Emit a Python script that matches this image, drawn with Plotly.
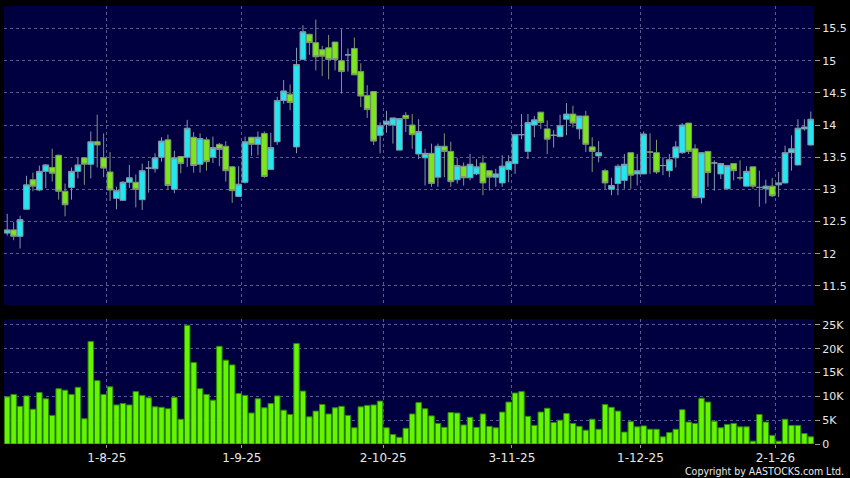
"""
Stock candlestick + volume chart (Plotly), AASTOCKS style.
"""

import pandas as pd
import plotly.graph_objects as go
from plotly.subplots import make_subplots

# ─── Data ─────────────────────────────────────────────────────────────────────

HOLIDAYS = ["2025-10-01", "2025-10-07", "2025-10-29", "2025-12-25", "2025-12-26", "2026-01-01"]
DATES = [d for d in pd.bdate_range("2025-07-10", "2026-01-09")
         if d.strftime("%Y-%m-%d") not in HOLIDAYS]
TICK_DATES = ["2025-08-01", "2025-09-01", "2025-10-02", "2025-11-03", "2025-12-01", "2026-01-02"]

OPEN = [12.32, 12.37, 12.27, 12.69, 13.15, 12.99, 13.28, 13.34, 13.53, 12.97,
        13.03, 13.28, 13.49, 13.39, 13.74, 13.49, 13.27, 12.86, 12.83, 13.11,
        13.11, 12.84, 13.33, 13.32, 13.50, 13.77, 13.00, 13.51, 13.50, 13.81,
        13.39, 13.77, 13.50, 13.70, 13.67, 13.35, 12.89, 13.11, 13.81, 13.70,
        13.87, 13.31, 13.74, 14.38, 14.48, 13.66, 15.02, 15.41, 15.28, 15.17,
        15.20, 15.29, 15.00, 15.09, 15.19, 14.83, 14.46, 14.52, 13.84, 14.01,
        14.00, 13.61, 14.15, 14.00, 13.55, 13.49, 13.56, 13.19, 13.67, 13.59,
        13.15, 13.36, 13.18, 13.24, 13.41, 13.29, 13.19, 13.10, 13.31, 13.40,
        13.85, 13.59, 14.00, 14.20, 13.94, 13.84, 13.82, 14.09, 14.17, 13.94,
        14.14, 13.66, 13.52, 13.29, 13.00, 13.09, 13.14, 13.57, 13.24, 13.24,
        13.58, 13.57, 13.37, 13.29, 13.49, 13.57, 14.03, 13.63, 12.87, 13.59,
        13.41, 13.24, 13.01, 13.40, 13.18, 13.05, 13.35, 13.03, 13.01, 13.05,
        13.07, 13.10, 13.57, 13.38, 13.94, 13.69]
HIGH = [12.62, 12.49, 12.59, 13.21, 13.26, 13.37, 13.39, 13.63, 13.54, 13.09,
        13.34, 13.49, 13.50, 13.90, 14.16, 13.87, 13.58, 13.04, 13.13, 13.38,
        13.23, 13.40, 13.44, 13.56, 13.81, 13.85, 13.60, 13.51, 14.08, 13.89,
        13.87, 13.81, 13.82, 13.72, 13.75, 13.36, 13.36, 13.82, 13.81, 13.90,
        13.90, 13.88, 14.44, 14.70, 14.63, 15.20, 15.55, 15.42, 15.64, 15.23,
        15.40, 15.29, 15.49, 15.19, 15.36, 14.96, 14.62, 14.52, 14.04, 14.22,
        14.11, 14.10, 14.20, 14.17, 14.09, 13.63, 13.71, 13.71, 13.87, 13.74,
        13.49, 13.42, 13.55, 13.47, 13.53, 13.29, 13.32, 13.53, 13.53, 13.85,
        14.17, 14.17, 14.14, 14.20, 14.07, 13.92, 14.16, 14.34, 14.30, 14.14,
        14.22, 13.81, 13.75, 13.32, 13.18, 13.39, 13.55, 13.57, 13.55, 13.90,
        13.87, 13.77, 13.50, 13.55, 13.75, 14.03, 14.03, 13.70, 13.58, 13.59,
        13.45, 13.40, 13.37, 13.40, 13.45, 13.36, 13.35, 13.29, 13.15, 13.18,
        13.27, 13.68, 13.84, 14.09, 14.09, 14.21]
LOW = [12.28, 12.21, 12.08, 12.69, 12.97, 12.97, 13.02, 13.12, 12.84, 12.58,
       12.84, 13.17, 13.07, 13.17, 13.34, 13.19, 12.82, 12.69, 12.82, 13.02,
       12.72, 12.68, 12.95, 13.26, 13.43, 13.00, 12.94, 13.25, 13.35, 13.26,
       13.26, 13.29, 13.41, 13.36, 13.12, 12.79, 12.89, 13.09, 13.52, 13.53,
       13.18, 13.30, 13.69, 14.33, 14.23, 13.56, 15.02, 15.09, 14.85, 14.76,
       14.71, 14.85, 14.49, 14.83, 14.78, 14.28, 14.11, 13.69, 13.56, 13.88,
       13.71, 13.61, 13.89, 13.63, 13.47, 13.06, 13.04, 13.04, 13.19, 13.04,
       13.09, 13.06, 13.14, 13.22, 12.91, 12.98, 13.04, 13.04, 13.11, 13.24,
       13.78, 13.47, 13.81, 13.94, 13.55, 13.65, 13.81, 13.84, 13.96, 13.78,
       13.58, 13.27, 13.42, 13.00, 12.91, 12.91, 13.01, 13.01, 13.06, 13.24,
       13.24, 13.24, 13.22, 13.19, 13.34, 13.55, 13.55, 12.86, 12.78, 13.04,
       12.98, 13.16, 12.99, 13.14, 13.14, 13.05, 13.01, 12.73, 12.78, 12.88,
       12.88, 13.09, 13.29, 13.37, 13.91, 13.68]
CLOSE = [12.37, 12.27, 12.53, 13.07, 13.05, 13.28, 13.38, 13.25, 12.97, 12.76,
         13.28, 13.38, 13.39, 13.74, 13.69, 13.33, 12.99, 12.98, 13.11, 13.18,
         13.00, 13.29, 13.33, 13.49, 13.75, 13.06, 13.49, 13.40, 13.95, 13.37,
         13.79, 13.43, 13.65, 13.62, 13.29, 12.98, 13.08, 13.74, 13.70, 13.81,
         13.20, 13.65, 14.38, 14.53, 14.35, 14.94, 15.45, 15.28, 15.06, 15.07,
         15.02, 15.02, 14.83, 15.09, 14.78, 14.45, 14.24, 13.75, 13.99, 14.06,
         14.11, 14.10, 14.10, 13.85, 13.90, 13.56, 13.09, 13.67, 13.59, 13.12,
         13.37, 13.18, 13.39, 13.35, 13.10, 13.19, 13.24, 13.36, 13.43, 13.85,
         13.85, 14.04, 14.08, 14.04, 13.78, 13.84, 13.99, 14.17, 14.03, 14.14,
         13.70, 13.59, 13.57, 13.10, 13.06, 13.36, 13.39, 13.22, 13.29, 13.86,
         13.58, 13.27, 13.37, 13.46, 13.66, 14.00, 13.59, 12.87, 13.57, 13.26,
         13.41, 13.40, 13.37, 13.29, 13.18, 13.28, 13.05, 13.03, 13.05, 12.90,
         13.10, 13.57, 13.63, 13.95, 13.97, 14.09]
VOLUME_K = [9.9, 10.4, 7.9, 10.1, 7.3, 10.8, 9.5, 6.0, 11.6, 11.3,
            10.4, 11.9, 5.3, 21.5, 13.3, 10.4, 12.0, 8.2, 8.5, 8.2,
            11.0, 10.2, 9.7, 7.8, 7.7, 7.4, 9.8, 5.2, 24.9, 17.1,
            11.6, 10.4, 9.2, 20.5, 17.6, 16.6, 10.6, 10.2, 6.5, 9.5,
            7.6, 8.5, 10.1, 7.1, 6.2, 21.1, 11.1, 5.7, 6.9, 8.3,
            6.3, 7.6, 7.9, 6.0, 3.4, 7.8, 8.1, 8.2, 9.0, 3.4,
            2.0, 1.4, 3.3, 6.3, 8.7, 7.4, 5.9, 4.3, 3.5, 6.6,
            6.5, 4.0, 5.6, 3.5, 6.3, 3.7, 3.4, 6.7, 8.8, 10.7,
            11.0, 5.8, 3.9, 6.7, 7.5, 4.5, 5.0, 6.4, 4.3, 3.7,
            2.9, 5.2, 3.1, 8.3, 7.7, 6.9, 2.5, 4.7, 3.6, 3.8,
            3.1, 3.1, 1.5, 2.4, 3.1, 7.2, 4.6, 4.3, 9.6, 8.8,
            4.8, 3.4, 4.1, 4.3, 3.6, 3.6, 0.6, 6.2, 4.6, 1.8,
            0.6, 5.2, 3.9, 3.9, 2.2, 1.5]

PRICE_TICKS = [11.5, 12, 12.5, 13, 13.5, 14, 14.5, 15, 15.5]
VOL_TICKS = [0, 5, 10, 15, 20, 25]

# ─── Style ────────────────────────────────────────────────────────────────────

PAPER_BG = "#000000"
PLOT_BG = "#000040"
GRID = "#5a5a90"
TEXT = "#e8e8e8"
UP_FILL = "#22e6f0"
DOWN_FILL = "#7be61e"
UP_EDGE = "#7f9aa8"
DOWN_EDGE = "#7f9570"
VOL_FILL = "#66f500"
VOL_EDGE = "#2c8a00"

idx = list(range(len(DATES)))
date_str = [d.strftime("%Y-%m-%d") for d in DATES]
tick_pos = [date_str.index(t) - 0.5 for t in TICK_DATES]
tick_txt = [f"{d.day}-{d.month}-{d.year % 100}" for d in pd.to_datetime(TICK_DATES)]

fig = make_subplots(rows=2, cols=1, shared_xaxes=True)

fig.add_trace(go.Candlestick(
    x=idx, open=OPEN, high=HIGH, low=LOW, close=CLOSE,
    increasing=dict(fillcolor=UP_FILL, line=dict(color=UP_EDGE, width=1)),
    decreasing=dict(fillcolor=DOWN_FILL, line=dict(color=DOWN_EDGE, width=1)),
    whiskerwidth=0,
    showlegend=False,
), row=1, col=1)

fig.add_trace(go.Bar(
    x=idx, y=VOLUME_K,
    marker=dict(color=VOL_FILL, line=dict(color=VOL_EDGE, width=1)),
    showlegend=False,
), row=2, col=1)

axis_common = dict(
    showgrid=True, gridcolor=GRID, gridwidth=1, griddash="3px,3px",
    zeroline=False, showline=False,
)

fig.update_layout(
    width=850, height=478,
    paper_bgcolor=PAPER_BG,
    plot_bgcolor=PLOT_BG,
    font=dict(family="DejaVu Sans", color=TEXT, size=11),
    margin=dict(l=4, r=36, t=6, b=34),
    bargap=0.15,
    boxgap=0.1,
    boxgroupgap=0,
    xaxis=dict(**axis_common, range=[-0.5, len(idx) - 0.5], tickvals=tick_pos,
               showticklabels=False, ticks="", rangeslider=dict(visible=False)),
    xaxis2=dict(**axis_common, range=[-0.5, len(idx) - 0.5], tickvals=tick_pos,
                ticktext=tick_txt, ticks="outside", ticklen=3, tickcolor="#999999",
                tickfont=dict(size=12), rangeslider=dict(visible=False)),
    yaxis=dict(**axis_common, domain=[0.317, 1], range=[11.2, 15.85], side="right",
               tickvals=PRICE_TICKS, ticks="outside", ticklen=5, tickcolor="#999999"),
    yaxis2=dict(**axis_common, domain=[0, 0.285], range=[0, 26.2], side="right",
                tickvals=VOL_TICKS, ticktext=[f"{v}K" if v else "0" for v in VOL_TICKS],
                ticks="outside", ticklen=5, tickcolor="#999999"),
)

fig.add_annotation(
    text="Copyright by AASTOCKS.com Ltd.",
    xref="paper", yref="paper", x=1.0395, y=-0.0616,
    xanchor="right", yanchor="middle", showarrow=False,
    font=dict(family="DejaVu Sans Condensed, Liberation Sans Narrow, DejaVu Sans",
              size=10.5, color=TEXT),
)

fig.write_html(
    "out.html",
    config={"displayModeBar": False},
    post_script="document.body.style.margin = '0'; document.body.style.overflow = 'hidden';",
)
